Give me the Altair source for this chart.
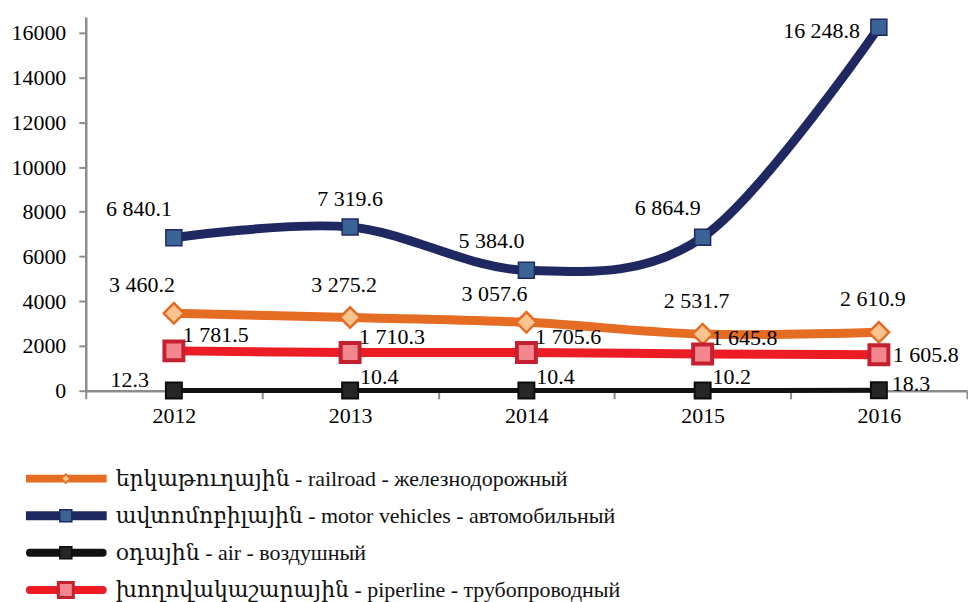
import altair as alt
import pandas as pd

years = ["2012", "2013", "2014", "2015", "2016"]
railroad = [3460.2, 3275.2, 3057.6, 2531.7, 2610.9]
motor = [6840.1, 7319.6, 5384.0, 6864.9, 16248.8]
air = [12.3, 10.4, 10.4, 10.2, 18.3]
pipeline = [1781.5, 1710.3, 1705.6, 1645.8, 1605.8]

series_keys = ["railroad", "motor", "air", "pipeline"]
series_values = {"railroad": railroad, "motor": motor, "air": air, "pipeline": pipeline}
legend_text = {
    "railroad": "երկաթուղային - railroad - железнодорожный",
    "motor": "ավտոմոբիլային - motor vehicles - автомобильный",
    "air": "օդային - air - воздушный",
    "pipeline": "խողովակաշարային - piperline - трубопроводный",
}

FONT = "Liberation Serif, Times New Roman, DejaVu Serif, serif"

style = {
    "railroad": dict(line="#E46C23", width=9, cap="butt", shape="diamond", fill="#FBC38F",
                     stroke="#E46C23", size=420, sw=2.5, lwidth=8, lsize=80, lsw=1.5),
    "motor": dict(line="#1F2860", width=9, cap="butt", shape="square", fill="#3A6396",
                  stroke="#1F2860", size=256, sw=1.5, lwidth=9, lsize=144, lsw=1.5),
    "air": dict(line="#111111", width=5, cap="round", shape="square", fill="#262626",
                stroke="#0D0D0D", size=256, sw=2, lwidth=8, lsize=144, lsw=1.5),
    "pipeline": dict(line="#EC1C24", width=9, cap="round", shape="square", fill="#F4878D",
                     stroke="#C42030", size=361, sw=4, lwidth=8, lsize=225, lsw=3),
}

# label placement groups: (years, align, dx, dy)
label_place = {
    "motor": [(["2012", "2014", "2015"], "center", -35, -29), (["2013"], "center", 0, -28),
              (["2016"], "right", -19, 4)],
    "railroad": [(["2012", "2014"], "center", -32, -28), (["2013", "2015", "2016"], "center", -6, -33)],
    "pipeline": [(["2012", "2013", "2014", "2015"], "left", 9, -16), (["2016"], "left", 14, 0)],
    "air": [(["2012"], "right", -25, -10), (["2013", "2014", "2015"], "left", 10, -14),
            (["2016"], "left", 13, -6)],
}

rows = []
for k in series_keys:
    for y, v in zip(years, series_values[k]):
        rows.append({"series": k, "year": y, "value": v})
df = pd.DataFrame(rows)

x_enc = alt.X("year:N", scale=alt.Scale(type="band", paddingInner=0, paddingOuter=0),
              axis=alt.Axis(title=None, labelAngle=0, tickBand="extent", labelFont=FONT,
                            labelFontSize=22, labelColor="#000", domainColor="#8C8C8C",
                            domainWidth=2.5, tickColor="#8C8C8C", tickWidth=2, tickSize=8,
                            labelPadding=7))
y_enc = alt.Y("value:Q", scale=alt.Scale(domain=[0, 16713], nice=False, zero=True),
              axis=alt.Axis(title=None, grid=False, values=list(range(0, 16001, 2000)),
                            format="d", labelFont=FONT, labelFontSize=22, labelColor="#000",
                            domainColor="#8C8C8C", domainWidth=2.5, tickColor="#8C8C8C",
                            tickWidth=2, tickSize=7, labelPadding=13))

base = alt.Chart(df)
layers = []
for k in series_keys:
    s = style[k]
    sub = base.transform_filter(alt.datum.series == k)
    layers.append(sub.mark_line(color=s["line"], strokeWidth=s["width"], interpolate="cardinal",
                                strokeCap=s["cap"]).encode(x=x_enc, y=y_enc))
for k in series_keys:
    s = style[k]
    sub = base.transform_filter(alt.datum.series == k)
    layers.append(sub.mark_point(shape=s["shape"], filled=True, fill=s["fill"], stroke=s["stroke"],
                                 strokeWidth=s["sw"], size=s["size"], opacity=1)
                  .encode(x=x_enc, y=y_enc))
for k in series_keys:
    for yrs, align, dx, dy in label_place[k]:
        sub = base.transform_filter(alt.datum.series == k).transform_filter(
            alt.FieldOneOfPredicate(field="year", oneOf=yrs)
        ).transform_calculate(label="replace(format(datum.value, ',.1f'), ',', ' ')")
        layers.append(sub.mark_text(font=FONT, fontSize=22, color="#000", align=align,
                                    baseline="middle", dx=dx, dy=dy)
                      .encode(x=x_enc, y=y_enc, text="label:N"))

main = alt.layer(*layers).properties(width=884, height=375)

leg_df = pd.DataFrame({"series": series_keys, "text": [legend_text[k] for k in series_keys]})
leg_y = alt.Y("series:N", sort=series_keys, scale=alt.Scale(type="point", padding=0.3), axis=None)
leg_base = alt.Chart(leg_df)
leg_layers = []
for k in series_keys:
    s = style[k]
    sub = leg_base.transform_filter(alt.datum.series == k)
    inset = s["lwidth"] / 2 if s["cap"] == "round" else 0
    leg_layers.append(sub.mark_rule(color=s["line"], strokeWidth=s["lwidth"], strokeCap=s["cap"])
                      .encode(x=alt.value(-60 + inset), x2=alt.value(21 - inset), y=leg_y))
    leg_layers.append(sub.mark_point(shape=s["shape"], filled=True, fill=s["fill"], stroke=s["stroke"],
                                     strokeWidth=s["lsw"], size=s["lsize"], opacity=1)
                      .encode(x=alt.value(-20), y=leg_y))
leg_layers.append(leg_base.mark_text(font=FONT, fontSize=22, color="#111", align="left",
                                     baseline="middle")
                  .encode(x=alt.value(30), y=leg_y, text="text:N"))
legend = alt.layer(*leg_layers).properties(width=600, height=134)

chart = alt.vconcat(main, legend, spacing=41).properties(
    padding={"left": 3, "top": 0, "right": 0, "bottom": 0}, background="white"
).configure_view(stroke=None)

chart.save("out.html", embed_options={"renderer": "svg", "actions": False})
